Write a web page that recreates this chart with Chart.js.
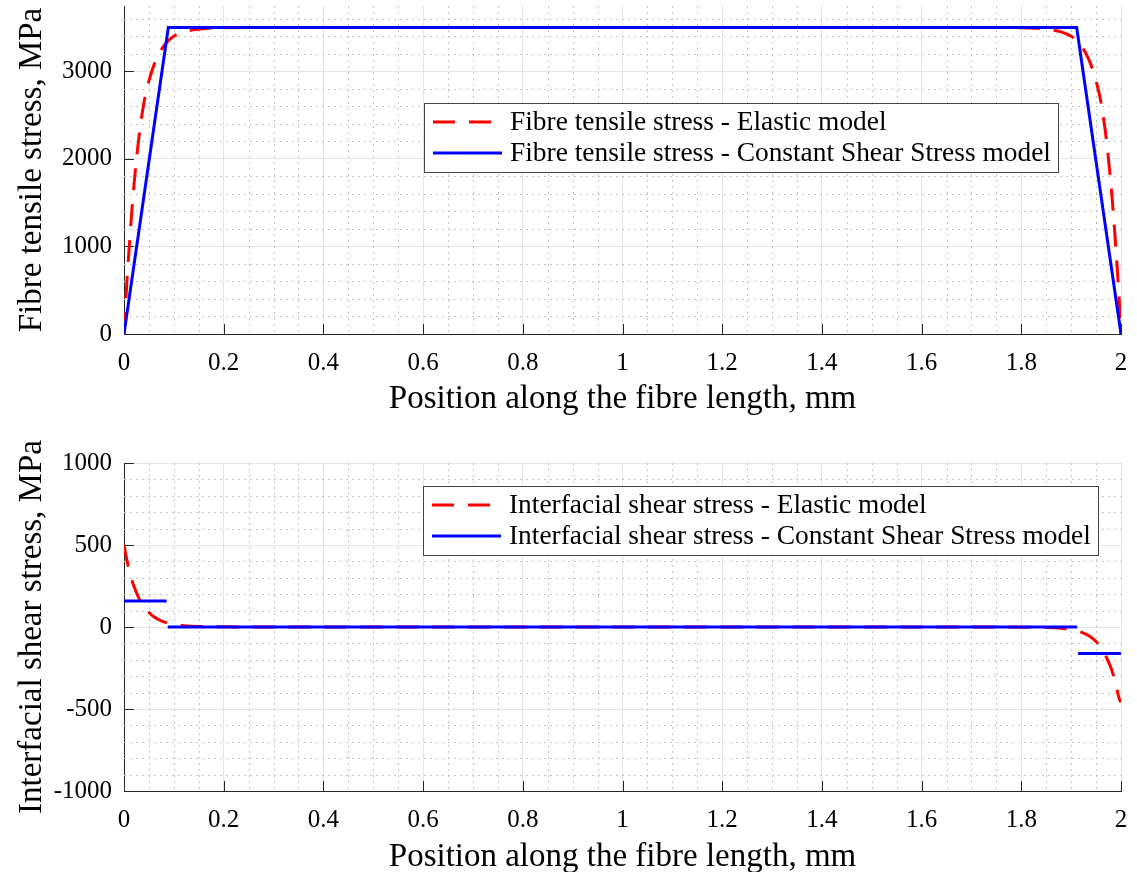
<!DOCTYPE html>
<html><head><meta charset="utf-8">
<script src="https://cdn.jsdelivr.net/npm/chart.js@4.4.0/dist/chart.umd.min.js"></script>
<style>html,body{margin:0;padding:0;background:#fff;} canvas{position:absolute;left:0;}</style>
</head><body>
<canvas id="c1" width="1137" height="436" style="top:0"></canvas>
<canvas id="c2" width="1137" height="436" style="top:436px"></canvas>
<script>
// ---- Data ----
const xTicks = [0, 0.2, 0.4, 0.6, 0.8, 1, 1.2, 1.4, 1.6, 1.8, 2];
const xTickLabels = ['0', '0.2', '0.4', '0.6', '0.8', '1', '1.2', '1.4', '1.6', '1.8', '2'];
const xMinor = [0.05,0.1,0.15,0.25,0.3,0.35,0.45,0.5,0.55,0.65,0.7,0.75,0.85,0.9,0.95,1.05,1.1,1.15,1.25,1.3,1.35,1.45,1.5,1.55,1.65,1.7,1.75,1.85,1.9,1.95];

const stressYTicks = [0, 1000, 2000, 3000];
const stressYTickLabels = ['0', '1000', '2000', '3000'];
const stressYMinor = [200,400,600,800,1200,1400,1600,1800,2200,2400,2600,2800,3200,3400,3600];

const shearYTicks = [-1000, -500, 0, 500, 1000];
const shearYTickLabels = ['-1000', '-500', '0', '500', '1000'];
const shearYMinor = [-900,-800,-700,-600,-400,-300,-200,-100,100,200,300,400,600,700,800,900];

const elasticStressX = [0, 0.0025, 0.005, 0.0075, 0.01, 0.015, 0.02, 0.03, 0.04, 0.05, 0.06, 0.07, 0.08, 0.09, 0.1, 0.12, 0.15, 0.2, 0.3, 1, 1.7, 1.8, 1.85, 1.88, 1.9, 1.91, 1.92, 1.93, 1.94, 1.95, 1.96, 1.97, 1.98, 1.985, 1.99, 1.9925, 1.995, 1.9975, 2];
const elasticStressY = [0, 280, 520, 750, 950, 1350, 1700, 2250, 2640, 2890, 3070, 3200, 3290, 3355, 3400, 3450, 3480, 3497, 3500, 3500, 3500, 3497, 3480, 3450, 3400, 3355, 3290, 3200, 3070, 2890, 2640, 2250, 1700, 1350, 950, 750, 520, 280, 0];

const cssStressX = [0, 0.0889, 1.9111, 2];
const cssStressY = [0, 3500, 3500, 0];

const elasticShearX = [0, 0.0025, 0.005, 0.0075, 0.01, 0.015, 0.02, 0.03, 0.04, 0.05, 0.06, 0.07, 0.08, 0.1, 0.12, 0.15, 0.2, 0.3, 1, 1.7, 1.8, 1.85, 1.88, 1.9, 1.92, 1.93, 1.94, 1.95, 1.96, 1.97, 1.98, 1.985, 1.99, 1.9925, 1.995, 1.9975, 2];
const elasticShearY = [500, 458, 420, 385, 352, 295, 248, 175, 124, 88, 62, 44, 31, 15, 8, 3, 1, 0, 0, 0, -1, -3, -8, -15, -31, -44, -62, -88, -124, -180, -250, -297, -355, -388, -422, -445, -460];

const cssShearX = [0, 0.0857, 0.0867, 0.0877, 1.912, 1.913, 1.914, 2];
const cssShearY = [158, 158, null, 0, 0, null, -162, -162];

const stressLegend = ['Fibre tensile stress - Elastic model', 'Fibre tensile stress - Constant Shear Stress model'];
const shearLegend = ['Interfacial shear stress - Elastic model', 'Interfacial shear stress - Constant Shear Stress model'];
const stressYTitle = 'Fibre tensile stress, MPa';
const shearYTitle = 'Interfacial shear stress, MPa';
const xTitle = 'Position along the fibre length, mm';

// ---- Styling ----
const FONT = '"Liberation Serif", "Times New Roman", serif';
const AXIS = '#262626';
const RED = '#ff0000', BLUE = '#0000ff';
const DASH = [22, 14];

const pts = (xs, ys) => xs.map((x, i) => ({x: x, y: ys[i]}));

const decor = {
  id: 'decor',
  beforeDatasetsDraw(chart, args, o) {
    const {ctx, chartArea: a, scales: {x, y}} = chart;
    ctx.save();
    ctx.strokeStyle = '#c4c4c4';
    ctx.lineWidth = 1;
    ctx.setLineDash([2, 4]);
    o.minorX.forEach(v => {
      const px = Math.round(x.getPixelForValue(v)) + 0.5;
      ctx.beginPath(); ctx.moveTo(px, a.top); ctx.lineTo(px, a.bottom); ctx.stroke();
    });
    o.minorY.forEach(v => {
      if (v > y.max) return;
      const py = Math.round(y.getPixelForValue(v)) + 0.5;
      ctx.beginPath(); ctx.moveTo(a.left, py); ctx.lineTo(a.right, py); ctx.stroke();
    });
    ctx.setLineDash([]);
    ctx.strokeStyle = AXIS;
    ctx.lineWidth = 1;
    o.xTicks.forEach(v => {
      const px = Math.round(x.getPixelForValue(v)) + 0.5;
      ctx.beginPath(); ctx.moveTo(px, a.bottom); ctx.lineTo(px, a.bottom - 10); ctx.stroke();
    });
    o.yTicks.forEach(v => {
      const py = Math.round(y.getPixelForValue(v)) + 0.5;
      ctx.beginPath(); ctx.moveTo(a.left, py); ctx.lineTo(a.left + 10, py); ctx.stroke();
    });
    ctx.restore();
  },
  afterDatasetsDraw(chart, args, o) {
    const {ctx, chartArea: a} = chart;
    ctx.save();
    ctx.font = '27.4px ' + FONT;
    const tw = Math.max(...o.labels.map(l => ctx.measureText(l).width));
    const bx = a.left + o.dx, by = a.top + o.dy;
    const bw = 85 + tw + 8, bh = 69;
    ctx.fillStyle = '#fff';
    ctx.fillRect(bx, by, bw, bh);
    ctx.strokeStyle = '#444';
    ctx.lineWidth = 1;
    ctx.strokeRect(Math.round(bx) + 0.5, Math.round(by) + 0.5, Math.round(bw), bh);
    const rows = [19, 50];
    const styles = [{c: RED, d: DASH}, {c: BLUE, d: []}];
    o.labels.forEach((l, i) => {
      const cy = by + rows[i];
      ctx.strokeStyle = styles[i].c;
      ctx.lineWidth = 3;
      ctx.setLineDash(styles[i].d);
      ctx.beginPath(); ctx.moveTo(bx + 9, cy); ctx.lineTo(bx + 78, cy); ctx.stroke();
      ctx.setLineDash([]);
      ctx.fillStyle = '#000';
      ctx.textBaseline = 'middle';
      ctx.textAlign = 'left';
      ctx.fillText(l, bx + 86, cy + 1);
    });
    ctx.restore();
  }
};

function build(id, cfg) {
  return new Chart(document.getElementById(id), {
    type: 'line',
    data: {
      datasets: [
        {data: pts(cfg.cssX, cfg.cssY), borderColor: BLUE, borderWidth: 3, pointRadius: 0, order: 0, spanGaps: false, tension: 0},
        {data: pts(cfg.elX, cfg.elY), borderColor: RED, borderWidth: 3, borderDash: DASH, pointRadius: 0, order: 1, cubicInterpolationMode: 'monotone'}
      ]
    },
    options: {
      responsive: false,
      animation: false,
      events: [],
      layout: {padding: {top: cfg.padTop, right: 16, left: 0, bottom: 0}},
      plugins: {
        legend: {display: false},
        tooltip: {enabled: false},
        decor: {minorX: xMinor, minorY: cfg.minorY, xTicks: xTicks, yTicks: cfg.yTicks, labels: cfg.legend, dx: cfg.legDx, dy: cfg.legDy}
      },
      scales: {
        x: {
          type: 'linear', min: 0, max: 2,
          afterBuildTicks: s => { s.ticks = xTicks.map(v => ({value: v})); },
          afterFit: s => { s.height = cfg.xH; s.paddingLeft = 0; s.paddingRight = 0; },
          ticks: {callback: (v, i) => xTickLabels[i], font: {family: FONT, size: 25}, color: '#000', padding: cfg.xTickPad, maxRotation: 0, autoSkip: false},
          grid: {color: '#e3e3e3', drawTicks: false},
          border: {color: AXIS, width: 1},
          title: {display: true, text: xTitle, font: {family: FONT, size: 33}, color: '#000', padding: {top: 0, bottom: cfg.xTitlePad}}
        },
        y: {
          type: 'linear', min: cfg.yMin, max: cfg.yMax,
          afterBuildTicks: s => { s.ticks = cfg.yTicks.map(v => ({value: v})); },
          afterFit: s => { s.width = 124; s.paddingTop = 0; s.paddingBottom = 0; },
          ticks: {callback: (v, i) => cfg.yLabels[i], font: {family: FONT, size: 25}, color: '#000', padding: 12},
          grid: {color: '#e3e3e3', drawTicks: false},
          border: {color: AXIS, width: 1},
          title: {display: true, text: cfg.yTitle, font: {family: FONT, size: 33}, color: '#000', padding: {top: 13, bottom: 0}}
        }
      }
    },
    plugins: [decor]
  });
}

build('c1', {
  cssX: cssStressX, cssY: cssStressY, elX: elasticStressX, elY: elasticStressY,
  yMin: 0, yMax: 3745, yTicks: stressYTicks, yLabels: stressYTickLabels, minorY: stressYMinor,
  yTitle: stressYTitle, legend: stressLegend, padTop: 6, xH: 102, xTickPad: 14, xTitlePad: 17,
  legDx: 300, legDy: 97
});
build('c2', {
  cssX: cssShearX, cssY: cssShearY, elX: elasticShearX, elY: elasticShearY,
  yMin: -1000, yMax: 1000, yTicks: shearYTicks, yLabels: shearYTickLabels, minorY: shearYMinor,
  yTitle: shearYTitle, legend: shearLegend, padTop: 27, xH: 81, xTickPad: 14, xTitlePad: -5,
  legDx: 299, legDy: 23
});
</script>
</body></html>
